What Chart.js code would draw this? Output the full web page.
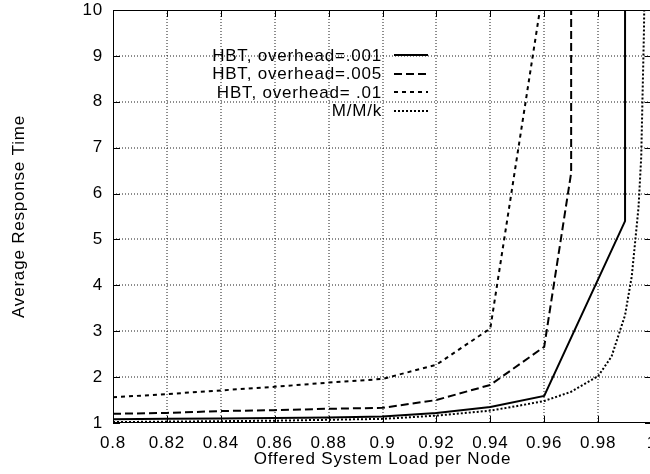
<!DOCTYPE html>
<html>
<head>
<meta charset="utf-8">
<script src="https://cdn.jsdelivr.net/npm/chart.js@4.4.1/dist/chart.umd.min.js"></script>
<style>
  html, body { margin: 0; padding: 0; background: #fff; overflow: hidden; }
  #wrap { width: 660px; height: 474px; }
</style>
</head>
<body>
<div id="wrap"><canvas id="chart"></canvas></div>
<script>
// offered load per node (x) and average response time (y) for each curve
const loadHbt001 = [0.8, 0.82, 0.84, 0.86, 0.88, 0.9, 0.92, 0.94, 0.96, 0.99, 0.99];
const respHbt001 = [1.08, 1.09, 1.10, 1.11, 1.12, 1.14, 1.22, 1.35, 1.59, 5.4, 12];

const loadHbt005 = [0.8, 0.82, 0.84, 0.86, 0.88, 0.9, 0.92, 0.94, 0.96, 0.97, 0.97];
const respHbt005 = [1.20, 1.22, 1.26, 1.28, 1.31, 1.33, 1.50, 1.83, 2.66, 6.45, 12];

const loadHbt01 = [0.8, 0.82, 0.84, 0.86, 0.88, 0.9, 0.92, 0.94, 0.96];
const respHbt01 = [1.56, 1.63, 1.71, 1.79, 1.88, 1.96, 2.27, 3.06, 10.6];

const loadMMk = [0.8, 0.82, 0.84, 0.86, 0.88, 0.9, 0.92, 0.94, 0.95, 0.96, 0.97, 0.98, 0.985, 0.99, 0.9925, 0.995, 0.996, 0.997, 0.998];
const respMMk = [1.02, 1.03, 1.04, 1.05, 1.07, 1.09, 1.16, 1.27, 1.37, 1.48, 1.68, 2.02, 2.45, 3.35, 4.2, 5.7, 6.8, 9.5, 14];

const seriesLabels = ["HBT, overhead=.001", "HBT, overhead=.005", "HBT, overhead= .01", "M/M/k"];
const xTicks = [0.8, 0.82, 0.84, 0.86, 0.88, 0.9, 0.92, 0.94, 0.96, 0.98, 1];
const yTicks = [1, 2, 3, 4, 5, 6, 7, 8, 9, 10];

const FONT = '"Liberation Sans", Arial, Helvetica, sans-serif';
Chart.defaults.font.family = FONT;
Chart.defaults.font.size = 17;
Chart.defaults.color = "#000";

function pairs(xs, ys) {
  return xs.map((x, i) => ({ x: x, y: ys[i] }));
}

function series(label, xs, ys, dash) {
  return {
    label: label,
    data: pairs(xs, ys),
    showLine: true,
    borderColor: "#000",
    borderWidth: 2,
    borderDash: dash,
    pointRadius: 0,
    tension: 0,
    fill: false
  };
}

// slightly wider lettering, like the postscript helvetica
const spacingPlugin = {
  id: "spacing",
  beforeDraw(chart) {
    chart.ctx.letterSpacing = "0.8px";
  }
};

// dotted grid under the curves (whole-pixel coordinates, so each dot spreads soft over two pixels)
const gridPlugin = {
  id: "dotgrid",
  beforeDatasetsDraw(chart) {
    const { ctx, chartArea: a, scales } = chart;
    ctx.save();
    ctx.strokeStyle = "#1a1a1a";
    ctx.lineWidth = 1;
    ctx.setLineDash([1, 2]);
    ctx.beginPath();
    xTicks.slice(1, -1).forEach(v => {
      const px = Math.round(scales.x.getPixelForValue(v));
      ctx.moveTo(px, a.top); ctx.lineTo(px, a.bottom);
    });
    yTicks.slice(1, -1).forEach(v => {
      const py = Math.round(scales.y.getPixelForValue(v));
      ctx.moveTo(a.left, py); ctx.lineTo(a.right, py);
    });
    ctx.stroke();
    ctx.restore();
  }
};

// frame with inward tick marks on all four sides
const framePlugin = {
  id: "frame",
  afterDatasetsDraw(chart) {
    const { ctx, chartArea: a, scales } = chart;
    const left = Math.round(a.left), top = Math.round(a.top);
    const right = Math.round(a.right), bottom = Math.round(a.bottom);
    ctx.save();
    ctx.fillStyle = "#000";
    ctx.fillRect(left, top, right - left, 1);
    ctx.fillRect(left, bottom - 1, right - left, 1);
    ctx.fillRect(left, top, 1, bottom - top);
    ctx.fillRect(right - 1, top, 1, bottom - top);
    xTicks.forEach(v => {
      const px = Math.round(scales.x.getPixelForValue(v));
      ctx.fillRect(px, bottom - 7, 1, 7);
      ctx.fillRect(px, top, 1, 7);
    });
    yTicks.forEach(v => {
      const py = Math.round(scales.y.getPixelForValue(v));
      ctx.fillRect(left, py, 7, 1);
      ctx.fillRect(right - 7, py, 7, 1);
    });
    ctx.restore();
  }
};

// key in the upper left: label right-aligned, line sample to its right
const keyPlugin = {
  id: "key",
  afterDraw(chart) {
    const ctx = chart.ctx;
    ctx.save();
    ctx.font = "17px " + FONT;
    ctx.fillStyle = "#000";
    ctx.textAlign = "right";
    ctx.textBaseline = "middle";
    chart.data.datasets.forEach((ds, i) => {
      const y = 55 + i * 18.5;
      ctx.fillText(ds.label, 382, y + 1);
      ctx.strokeStyle = ds.borderColor;
      ctx.lineWidth = ds.borderWidth;
      ctx.setLineDash(ds.borderDash);
      ctx.beginPath();
      ctx.moveTo(394, Math.round(y));
      ctx.lineTo(428, Math.round(y));
      ctx.stroke();
    });
    ctx.restore();
  }
};

new Chart(document.getElementById("chart"), {
  type: "scatter",
  data: {
    datasets: [
      series(seriesLabels[0], loadHbt001, respHbt001, []),
      series(seriesLabels[1], loadHbt005, respHbt005, [8, 4]),
      series(seriesLabels[2], loadHbt01, respHbt01, [4, 4]),
      series(seriesLabels[3], loadMMk, respMMk, [2, 2])
    ]
  },
  options: {
    responsive: true,
    maintainAspectRatio: false,
    animation: false,
    layout: { padding: { top: 10, right: 8, left: 0, bottom: 0 } },
    plugins: { legend: { display: false }, tooltip: { enabled: false } },
    scales: {
      x: {
        type: "linear",
        min: 0.8,
        max: 1,
        afterBuildTicks: s => { s.ticks = xTicks.map(v => ({ value: v })); },
        afterFit: s => { s.height = 51; s.paddingLeft = 0; s.paddingRight = 0; },
        ticks: {
          padding: 10,
          maxRotation: 0,
          autoSkip: false,
          callback: v => String(+v.toFixed(2))
        },
        grid: { display: false, drawTicks: false },
        border: { display: false },
        title: {
          display: true,
          text: "Offered System Load per Node",
          padding: { top: 0, bottom: 4 }
        }
      },
      y: {
        type: "linear",
        min: 1,
        max: 10,
        afterBuildTicks: s => { s.ticks = yTicks.map(v => ({ value: v })); },
        afterFit: s => { s.width = 113; s.paddingTop = 0; s.paddingBottom = 0; },
        ticks: { padding: 10 },
        grid: { display: false, drawTicks: false },
        border: { display: false },
        title: {
          display: true,
          text: "Average Response Time",
          padding: { top: 9, bottom: 0 }
        }
      }
    }
  },
  plugins: [spacingPlugin, gridPlugin, framePlugin, keyPlugin]
});
</script>
</body>
</html>
